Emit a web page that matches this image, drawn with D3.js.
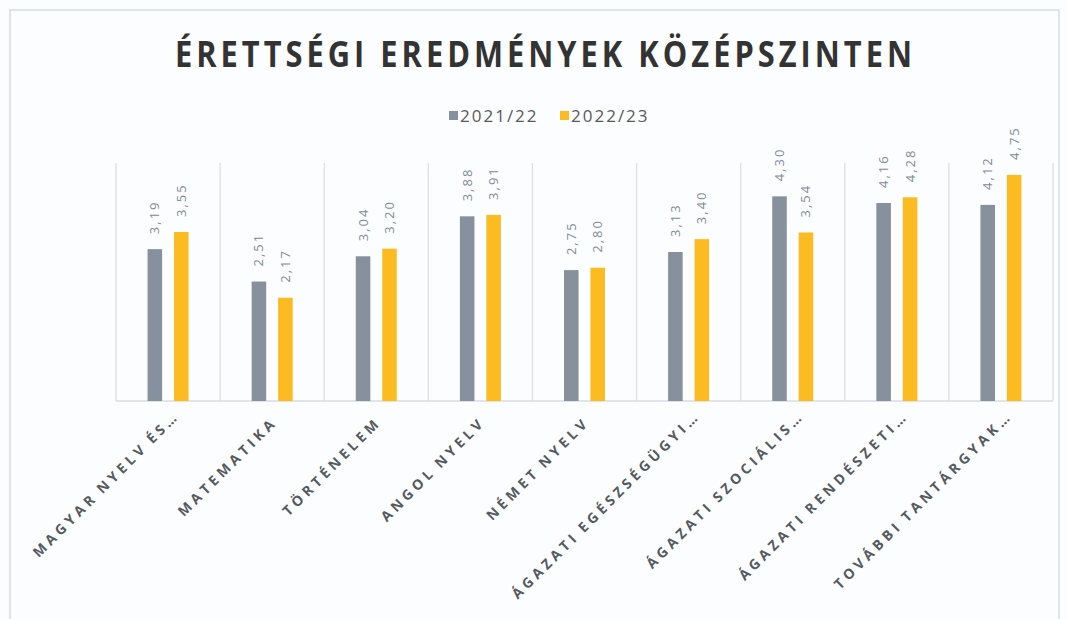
<!DOCTYPE html>
<html>
<head>
<meta charset="utf-8">
<script src="https://cdn.jsdelivr.net/npm/d3@7"></script>
<style>
  body { margin: 0; background: #fcfdfe; }
  svg { display: block; }
  .title { font-family: "Open Sans", sans-serif; font-weight: 700; fill: #333333; }
  .legend text { font-family: "Open Sans", sans-serif; font-size: 17px; fill: #595959; letter-spacing: 2px; }
  .valueLabel { font-family: "Open Sans", sans-serif; font-size: 13px; fill: #7f8b98; letter-spacing: 2px; }
  .catLabel { font-family: "Open Sans", sans-serif; font-size: 14px; font-weight: 700; fill: #555a60; letter-spacing: 4px; word-spacing: -2px; }
</style>
</head>
<body>
<div id="chart"></div>
<script>
// data
var categories = ["MAGYAR NYELV ÉS…", "MATEMATIKA", "TÖRTÉNELEM", "ANGOL NYELV", "NÉMET NYELV",
                  "ÁGAZATI EGÉSZSÉGÜGYI…", "ÁGAZATI SZOCIÁLIS…", "ÁGAZATI RENDÉSZETI…", "TOVÁBBI TANTÁRGYAK…"];
var series = ["2021/22", "2022/23"];
var values2122 = [3.19, 2.51, 3.04, 3.88, 2.75, 3.13, 4.30, 4.16, 4.12];
var values2223 = [3.55, 2.17, 3.20, 3.91, 2.80, 3.40, 3.54, 4.28, 4.75];
var colours = ["#86919d", "#fdbb22"];

var width = 1067, height = 619;
var margin = {top: 163, right: 14, bottom: 218, left: 116};

var svg = d3.select("#chart")
  .append("svg")
    .attr("width", width)
    .attr("height", height);

// frame of the chart area
svg.append("rect")
    .attr("x", 10).attr("y", 10)
    .attr("width", 1049).attr("height", 620)
    .style("fill", "#fcfdfe")
    .style("stroke", "#d3dbe6")
    .style("stroke-width", 1.5);

var rows = categories.map((c, i) => ({cat: c, vals: [values2122[i], values2223[i]]}));

var x0 = d3.scaleBand()
    .domain(categories)
    .range([margin.left, width - margin.right]);

var x1 = d3.scaleBand()
    .domain(series)
    .range([x0.bandwidth() / 2 - 20.5, x0.bandwidth() / 2 + 20.5])
    .paddingInner(0.45);

var y = d3.scaleLinear()
    .domain([0, 5])
    .range([height - margin.bottom, margin.top]);

var comma = d3.formatLocale({decimal: ",", thousands: " ", grouping: [3], currency: ["", ""]}).format(".2f");

// title (a bit condensed, like the original)
var sx = 0.88;
svg.append("text")
    .attr("class", "title")
    .attr("transform", `scale(${sx},1)`)
    .attr("x", 175 / sx)
    .attr("y", 67)
    .attr("font-size", 35)
    .attr("textLength", 737 / sx)
    .attr("lengthAdjust", "spacing")
    .text("ÉRETTSÉGI  EREDMÉNYEK  KÖZÉPSZINTEN");

// legend
var legend = svg.append("g").attr("class", "legend")
    .attr("transform", "translate(449, 116)");
var legendX = [0, 111];
series.forEach((s, i) => {
  legend.append("rect")
      .attr("x", legendX[i]).attr("y", -5)
      .attr("width", 9).attr("height", 9)
      .style("fill", colours[i]);
  legend.append("text")
      .attr("x", legendX[i] + 11).attr("y", 6)
      .text(s);
});

// vertical separators between categories
var seps = categories.map(c => x0(c)).concat([x0.range()[1]]);
svg.append("g")
  .selectAll("line")
  .data(seps)
  .enter()
  .append("line")
    .attr("x1", d => d).attr("x2", d => d)
    .attr("y1", y(5)).attr("y2", y(0))
    .style("stroke", "#d9e1ea")
    .style("stroke-width", 1.3);

// baseline
svg.append("line")
    .attr("x1", x0.range()[0]).attr("x2", x0.range()[1])
    .attr("y1", y(0)).attr("y2", y(0))
    .style("stroke", "#d9dde3")
    .style("stroke-width", 1.3);

var groups = svg.selectAll("g.cat")
  .data(rows)
  .enter()
  .append("g")
    .attr("class", "cat")
    .attr("transform", d => `translate(${x0(d.cat)},0)`);

groups.selectAll("rect")
  .data(d => d.vals.map((v, i) => ({s: series[i], v: v, i: i})))
  .enter()
  .append("rect")
    .attr("x", d => x1(d.s))
    .attr("y", d => y(d.v))
    .attr("width", x1.bandwidth())
    .attr("height", d => y(0) - y(d.v))
    .style("fill", d => colours[d.i]);

// value labels, rotated
groups.selectAll("text.valueLabel")
  .data(d => d.vals.map((v, i) => ({s: series[i], v: v})))
  .enter()
  .append("text")
    .attr("class", "valueLabel")
    .attr("transform", d => `translate(${x1(d.s) + x1.bandwidth() / 2 + 4.5},${y(d.v) - 15}) rotate(-90)`)
    .text(d => comma(d.v));

// category labels at -45
svg.append("g")
  .selectAll("text")
  .data(categories)
  .enter()
  .append("text")
    .attr("class", "catLabel")
    .attr("text-anchor", "end")
    .attr("dx", c => c.endsWith("…") ? 9 : 0)
    .attr("transform", c => `translate(${x0(c) + x0.bandwidth() / 2 + 6},${y(0) + 22}) rotate(-45)`)
    .text(c => c);
</script>
</body>
</html>
